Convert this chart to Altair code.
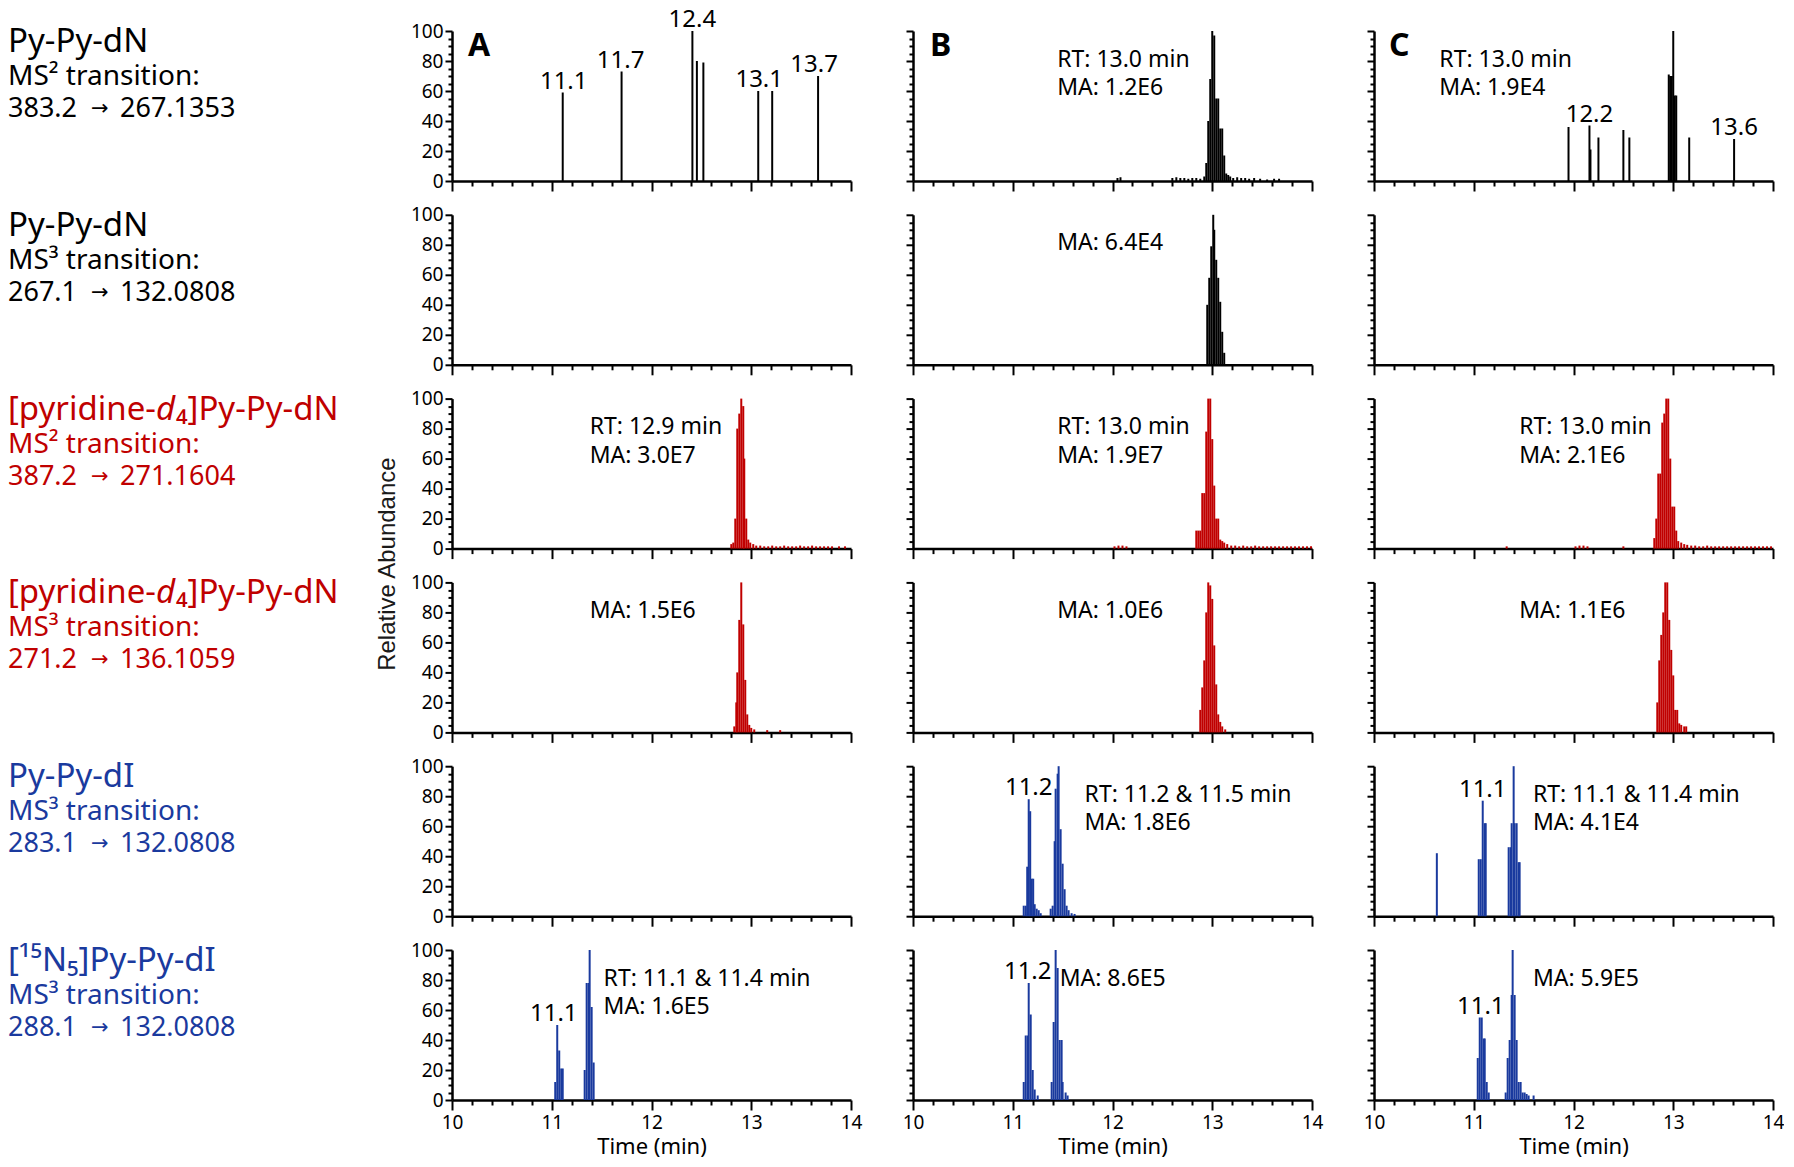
import altair as alt
import pandas as pd

FONT = "Noto Sans"
BLACK = "#000000"
RED = "#C00000"
BLUE = "#1A3A9E"

# ---------------- left-hand row labels ----------------
ROW_COLORS = [BLACK, BLACK, RED, RED, BLUE, BLUE]
LINE1_PARTS = [
    [("Py-Py-dN", "normal")],
    [("Py-Py-dN", "normal")],
    [("[pyridine-", "normal"), ("d", "italic"), ("₄]Py-Py-dN", "normal")],
    [("[pyridine-", "normal"), ("d", "italic"), ("₄]Py-Py-dN", "normal")],
    [("Py-Py-dI", "normal")],
    [("[¹⁵N₅]Py-Py-dI", "normal")],
]
LINE2 = ["MS² transition:", "MS³ transition:", "MS² transition:",
         "MS³ transition:", "MS³ transition:", "MS³ transition:"]
LINE3_FROM = ["383.2", "267.1", "387.2", "271.2", "283.1", "288.1"]
LINE3_TO = ["267.1353", "132.0808", "271.1604", "136.1059", "132.0808", "132.0808"]
ARROW = "→"
COLUMNS = ["A", "B", "C"]

# ---------------- chromatogram data (time in min, relative abundance) ----------------
a1_t = [11.11, 11.70, 12.41, 12.455, 12.52, 13.07, 13.21, 13.67]
a1_i = [59, 73, 100, 80, 79, 60, 60, 70]

b1_t = [12.05, 12.08, 12.60, 12.64, 12.68, 12.72, 12.76, 12.80, 12.84, 12.88, 12.92,
        12.94, 12.96, 12.98, 13.00, 13.02, 13.04, 13.06, 13.08, 13.10, 13.12,
        13.14, 13.16, 13.18, 13.21, 13.25, 13.29, 13.33, 13.37, 13.42, 13.48, 13.55, 13.62, 13.67]
b1_i = [2, 2.5, 2, 2.5, 2, 2, 1.5, 2, 2, 1.5, 3,
        12, 40, 68, 100, 97, 55, 55, 35, 35, 17,
        5, 4, 3, 2, 2.5, 2, 2, 1.5, 2, 1.5, 1, 1.5, 1.5]

c1_t = [11.95, 12.16, 12.17, 12.25, 12.50, 12.56, 12.955, 12.97, 12.985, 13.00, 13.015, 13.03, 13.16, 13.61]
c1_i = [36, 37, 21, 29, 34, 29, 71, 70, 70, 100, 57, 57, 29, 28]

a2_t = []
a2_i = []

b2_t = [12.95, 12.97, 12.99, 13.01, 13.02, 13.04, 13.06, 13.08, 13.10, 13.12]
b2_i = [40, 58, 79, 100, 90, 70, 58, 42, 22, 8]

c2_t = []
c2_i = []

a3_t = [12.80, 12.82, 12.84, 12.86, 12.88, 12.90, 12.92, 12.93, 12.95, 12.97, 12.99,
        13.02, 13.05, 13.09,
        13.13, 13.17, 13.21, 13.25, 13.29, 13.33, 13.37, 13.41, 13.45, 13.49, 13.53,
        13.57, 13.61, 13.65, 13.69, 13.73, 13.77, 13.81, 13.88, 13.94]
a3_i = [3, 4, 20, 80, 90, 100, 95, 60, 20, 6, 4,
        3, 2, 2,
        1.5, 1.5, 2, 1.5, 1.5, 2, 1.5, 1.5, 1.5, 2, 1.5,
        1.5, 2, 1.5, 1.5, 1.5, 1.5, 1.5, 1.5, 1.5]

b3_t = [12.02, 12.06, 12.10, 12.14,
        12.84, 12.86, 12.88, 12.90, 12.92, 12.94, 12.96, 12.98, 13.00, 13.02, 13.04,
        13.06, 13.08, 13.10, 13.12, 13.15,
        13.19, 13.23, 13.27, 13.31, 13.35, 13.39, 13.43, 13.47, 13.51, 13.55, 13.59,
        13.63, 13.67, 13.71, 13.75, 13.79, 13.83, 13.87, 13.91, 13.95, 13.99]
b3_i = [1.5, 2, 2, 1.5,
        12, 12, 12, 37, 37, 78, 100, 100, 73, 42, 20,
        20, 6, 5, 4, 3,
        2, 2, 1.5, 2, 1.5, 1.5, 2, 1.5, 1.5, 1.5, 1.5,
        1.5, 1.5, 1.5, 1.5, 1.5, 1.5, 1.5, 1.5, 1.5, 1.5]

c3_t = [11.33, 12.02, 12.06, 12.10, 12.14, 12.50,
        12.81, 12.83, 12.85, 12.87, 12.89, 12.91, 12.93, 12.95, 12.97, 12.99, 13.01, 13.03, 13.05,
        13.08, 13.11, 13.14,
        13.18, 13.22, 13.26, 13.30, 13.34, 13.38, 13.42, 13.46, 13.50, 13.54, 13.58,
        13.62, 13.66, 13.70, 13.74, 13.78, 13.82, 13.86, 13.90, 13.94, 13.98]
c3_i = [1.5, 1.5, 2, 2, 1.5, 1.5,
        7, 20, 50, 50, 84, 90, 100, 100, 60, 28, 28, 12, 5,
        4, 3, 2.5,
        2, 2, 1.5, 1.5, 2, 1.5, 1.5, 1.5, 1.5, 1.5, 1.5,
        1.5, 1.5, 1.5, 1.5, 1.5, 1.5, 1.5, 1.5, 1.5, 1.5]

a4_t = [12.83, 12.85, 12.86, 12.88, 12.90, 12.92, 12.94, 12.96, 12.98, 13.00, 13.03, 13.16, 13.29]
a4_i = [4, 20, 40, 75, 100, 72, 35, 12, 5, 3, 2, 1.5, 1.5]

b4_t = [12.88, 12.90, 12.92, 12.94, 12.96, 12.98, 13.00, 13.02, 13.04, 13.06, 13.08, 13.10, 13.13]
b4_i = [15, 30, 48, 80, 100, 98, 89, 58, 32, 12, 7, 4, 2]

c4_t = [12.84, 12.86, 12.88, 12.90, 12.92, 12.94, 12.96, 12.98, 13.00, 13.02, 13.04, 13.06, 13.08, 13.11, 13.13]
c4_i = [20, 48, 65, 80, 100, 100, 75, 55, 38, 15, 15, 6, 5, 4, 4]

a5_t = []
a5_i = []

b5_t = [11.11, 11.13, 11.145, 11.16, 11.175, 11.19, 11.205, 11.22, 11.24, 11.26, 11.28,
        11.38, 11.40, 11.42, 11.43, 11.45, 11.46, 11.48, 11.50, 11.52, 11.54, 11.56, 11.59, 11.62]
b5_i = [7, 7, 33, 78, 70, 25, 25, 8, 5, 4, 2,
        5, 7, 50, 85, 95, 100, 58, 35, 18, 7, 4, 2, 1.5]

c5_t = [10.63, 11.05, 11.07, 11.09, 11.11, 11.12, 11.35, 11.37, 11.38, 11.40, 11.41, 11.43, 11.45, 11.46]
c5_i = [42, 38, 38, 77, 62, 62, 46, 46, 62, 100, 62, 62, 36, 36]

a6_t = [11.035, 11.055, 11.075, 11.095, 11.11, 11.33, 11.35, 11.37, 11.38, 11.40, 11.42]
a6_i = [12, 50, 33, 21, 21, 20, 78, 78, 100, 62, 25]

b6_t = [11.11, 11.13, 11.15, 11.16, 11.18, 11.20, 11.22, 11.25,
        11.39, 11.41, 11.43, 11.45, 11.47, 11.49, 11.50, 11.53, 11.55]
b6_i = [12, 43, 43, 78, 57, 20, 7, 3,
        12, 52, 100, 88, 40, 40, 12, 5, 3]

c6_t = [11.04, 11.06, 11.08, 11.10, 11.11, 11.13, 11.15,
        11.32, 11.34, 11.36, 11.38, 11.39, 11.41, 11.43, 11.45, 11.47, 11.49, 11.51, 11.53, 11.55, 11.60]
c6_i = [28, 55, 55, 41, 41, 12, 5,
        5, 28, 40, 70, 100, 70, 40, 12, 12, 5, 5, 4, 3, 3]

SERIES = {
    "A1": (a1_t, a1_i), "B1": (b1_t, b1_i), "C1": (c1_t, c1_i),
    "A2": (a2_t, a2_i), "B2": (b2_t, b2_i), "C2": (c2_t, c2_i),
    "A3": (a3_t, a3_i), "B3": (b3_t, b3_i), "C3": (c3_t, c3_i),
    "A4": (a4_t, a4_i), "B4": (b4_t, b4_i), "C4": (c4_t, c4_i),
    "A5": (a5_t, a5_i), "B5": (b5_t, b5_i), "C5": (c5_t, c5_i),
    "A6": (a6_t, a6_i), "B6": (b6_t, b6_i), "C6": (c6_t, c6_i),
}

# ---------------- in-panel annotations ----------------
info_panel = ["B1", "B1", "C1", "C1", "B2", "A3", "A3", "B3", "B3", "C3", "C3",
              "A4", "B4", "C4", "B5", "B5", "C5", "C5", "A6", "A6", "B6", "C6"]
info_t = [11.445, 11.445, 10.655, 10.655, 11.445, 11.38, 11.38, 11.445, 11.445, 11.456, 11.456,
          11.38, 11.445, 11.456, 11.72, 11.72, 11.593, 11.593, 11.52, 11.52, 11.47, 11.593]
info_y = [81, 62, 81, 62, 81, 81, 62, 81, 62, 81, 62,
          81, 81, 81, 81, 62, 81, 62, 81, 62, 81, 81]
info_text = ["RT: 13.0 min", "MA: 1.2E6", "RT: 13.0 min", "MA: 1.9E4", "MA: 6.4E4",
             "RT: 12.9 min", "MA: 3.0E7", "RT: 13.0 min", "MA: 1.9E7", "RT: 13.0 min", "MA: 2.1E6",
             "MA: 1.5E6", "MA: 1.0E6", "MA: 1.1E6",
             "RT: 11.2 & 11.5 min", "MA: 1.8E6", "RT: 11.1 & 11.4 min", "MA: 4.1E4",
             "RT: 11.1 & 11.4 min", "MA: 1.6E5", "MA: 8.6E5", "MA: 5.9E5"]

peak_panel = ["A1", "A1", "A1", "A1", "A1", "C1", "C1", "B5", "C5", "A6", "B6", "C6"]
peak_t = [11.12, 11.69, 12.41, 13.08, 13.63, 12.16, 13.61, 11.16, 11.09, 11.02, 11.15, 11.07]
peak_y = [59, 73, 100, 60, 70, 37, 28, 78, 77, 50, 78, 55]
peak_text = ["11.1", "11.7", "12.4", "13.1", "13.7", "12.2", "13.6", "11.2", "11.1", "11.1", "11.2", "11.1"]

letter_panel = ["A1", "B1", "C1"]
letter_t = [10.16, 10.17, 10.15]
letter_y = [90, 90, 90]
letter_text = ["A", "B", "C"]

# ---------------- tables ----------------
rows = []
for key, (ts, vs) in SERIES.items():
    for t, v in zip(ts, vs):
        rows.append({"panel": key, "t": t, "I": v})
df_pts = pd.DataFrame(rows, columns=["panel", "t", "I"])
df_info = pd.DataFrame({"panel": info_panel, "t": info_t, "y": info_y, "text": info_text})
df_peak = pd.DataFrame({"panel": peak_panel, "t": peak_t, "y": peak_y, "text": peak_text})
df_letter = pd.DataFrame({"panel": letter_panel, "t": letter_t, "y": letter_y, "text": letter_text})

X_TICKS = [round(10 + 0.2 * k, 1) for k in range(21)]
Y_TICKS = list(range(0, 101, 5))
XS = alt.Scale(domain=[10, 14], nice=False, zero=False)
YS = alt.Scale(domain=[0, 100], nice=False, zero=False)

W, H = 399, 150
COL_GAP, ROW_GAP = 62, 33.8
LABEL_X = -444
LINE_Y = [11, 46, 78]
LINE1_SIZE = 33
LINE2_SIZE = 28
LINE3_SIZE = 27
PART_X = [0, 148, 168]
ARROW_X = 83
TO_X = 112


def x_axis(bottom):
    kw = dict(values=X_TICKS, grid=False, domainColor="black", domainWidth=2.5,
              tickColor="black", tickWidth=2,
              tickSize={"condition": {"test": "datum.value % 1 === 0", "value": 10}, "value": 5})
    if bottom:
        kw.update(labels=True,
                  labelExpr="datum.value % 1 === 0 ? format(datum.value, 'd') : ''",
                  labelFont=FONT, labelFontSize=19, labelColor="black", labelPadding=3,
                  labelFlush=False, labelOverlap=False,
                  titleFont=FONT, titleFontSize=22, titleFontWeight="normal",
                  titleColor="black", titlePadding=4)
    else:
        kw.update(labels=False)
    return alt.Axis(**kw)


def y_axis(show_labels, with_title):
    kw = dict(values=Y_TICKS, grid=False, domainColor="black", domainWidth=2.5,
              tickColor="black", tickWidth=2,
              tickSize={"condition": {"test": "datum.value % 20 === 0", "value": 7}, "value": 4})
    if show_labels:
        kw.update(labels=True, labelExpr="datum.value % 20 === 0 ? datum.label : ''",
                  labelFont=FONT, labelFontSize=19, labelColor="black", labelPadding=2,
                  labelOverlap=False)
    else:
        kw.update(labels=False)
    if with_title:
        kw.update(titleFont="Liberation Sans", titleFontSize=24, titleFontWeight="normal",
                  titleColor="#1a1a1a", titleAngle=270, titleAlign="center",
                  titleBaseline="middle", titleX=-65, titleY=165)
    return alt.Axis(**kw)


def panel(r, c):
    key = f"{COLUMNS[c]}{r + 1}"
    color = ROW_COLORS[r]
    bottom = r == 5
    xt = "Time (min)" if bottom else None
    yt = "Relative Abundance" if (r == 2 and c == 0) else None
    xa = x_axis(bottom)
    ya = y_axis(c == 0, yt is not None)

    def ex(field):
        return alt.X(field, scale=XS, axis=xa, title=xt)

    def ey(field):
        return alt.Y(field, scale=YS, axis=ya, title=yt)

    bars = alt.Chart(df_pts).transform_filter(alt.datum.panel == key).transform_calculate(
        x1="datum.t - 0.01", x2="datum.t + 0.01"
    ).mark_rect(color=color).encode(
        x=ex("x1:Q"),
        x2="x2:Q",
        y=ey("I:Q"),
        y2=alt.datum(0),
    )
    layers = [bars]

    info = alt.Chart(df_info).transform_filter(alt.datum.panel == key).mark_text(
        align="left", baseline="middle", font=FONT, fontSize=23, color="black"
    ).encode(x=ex("t:Q"), y=ey("y:Q"), text="text:N")
    layers.append(info)

    peaks = alt.Chart(df_peak).transform_filter(alt.datum.panel == key).mark_text(
        align="center", baseline="alphabetic", dy=-4, font=FONT, fontSize=24, color="black"
    ).encode(x=ex("t:Q"), y=ey("y:Q"), text="text:N")
    layers.append(peaks)

    if r == 0:
        letters = alt.Chart(df_letter).transform_filter(alt.datum.panel == key).mark_text(
            align="left", baseline="middle", font=FONT, fontSize=32, fontWeight="bold", color="black"
        ).encode(x=ex("t:Q"), y=ey("y:Q"), text="text:N")
        layers.append(letters)

    if c == 0:
        parts = LINE1_PARTS[r]
        for k, (txt, style) in enumerate(parts):
            layers.append(
                alt.Chart(pd.DataFrame({"text": [txt]})).mark_text(
                    align="left", baseline="middle", font=FONT, fontSize=LINE1_SIZE,
                    fontStyle=style, color=color
                ).encode(x=alt.value(LABEL_X + PART_X[k]), y=alt.value(LINE_Y[0]), text="text:N")
            )
        layers.append(
            alt.Chart(pd.DataFrame({"text": [LINE2[r]]})).mark_text(
                align="left", baseline="middle", font=FONT, fontSize=LINE2_SIZE, color=color
            ).encode(x=alt.value(LABEL_X), y=alt.value(LINE_Y[1]), text="text:N")
        )
        for txt, xoff, fnt, size in [(LINE3_FROM[r], 0, FONT, LINE3_SIZE),
                                     (ARROW, ARROW_X, "DejaVu Sans", 21),
                                     (LINE3_TO[r], TO_X, FONT, LINE3_SIZE)]:
            layers.append(
                alt.Chart(pd.DataFrame({"text": [txt]})).mark_text(
                    align="left", baseline="middle", font=fnt, fontSize=size, color=color
                ).encode(x=alt.value(LABEL_X + xoff), y=alt.value(LINE_Y[2]), text="text:N")
            )

    return alt.layer(*layers).properties(width=W, height=H)


panels = [panel(r, c) for r in range(6) for c in range(3)]

chart = alt.concat(
    *panels, columns=3, spacing={"row": ROW_GAP, "column": COL_GAP}, bounds="flush"
).properties(padding=0, background="white").configure(font=FONT).configure_view(stroke=None)

chart.save("out.html", embed_options={"renderer": "svg", "actions": False})
